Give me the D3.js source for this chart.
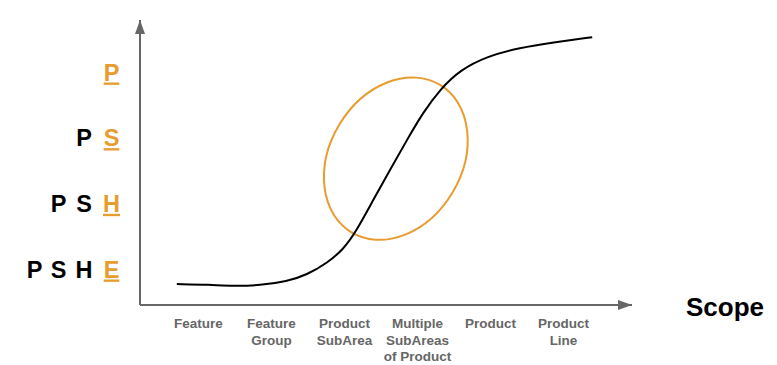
<!DOCTYPE html>
<html>
<head>
<meta charset="utf-8">
<script src="https://cdn.jsdelivr.net/npm/d3@7"></script>
<style>
  body { margin: 0; background: #fff; }
  svg { display: block; font-family: "Liberation Sans", Arial, sans-serif; }
</style>
</head>
<body>
<svg width="777" height="365"></svg>
<script>
// categories along the scope axis (index = position)
var categories = [
  ["Feature"],
  ["Feature", "Group"],
  ["Product", "SubArea"],
  ["Multiple", "SubAreas", "of Product"],
  ["Product"],
  ["Product", "Line"]
];

// levels on the vertical axis, bottom to top
var levels = [
  ["P", "S", "H", "E"],
  ["P", "S", "H"],
  ["P", "S"],
  ["P"]
];

// s-curve, x in category units, y in level units
var curveX = [-0.29, 0.16, 0.48, 0.85, 1.22, 1.49, 1.77, 1.99, 2.15, 2.40, 2.63, 2.86, 3.08, 3.32, 3.59, 3.96, 4.41, 4.86, 5.40];
var curveY = [-0.23, -0.24, -0.26, -0.25, -0.19, -0.09, 0.09, 0.30, 0.54, 1.05, 1.51, 1.96, 2.38, 2.74, 3.03, 3.24, 3.37, 3.45, 3.53];

// highlighted region (center in category / level units)
var focus = {cx: 2.71, cy: 1.68};

var svg = d3.select("svg");
var orange = "#e89c30",
    grey = "#666";

var x = d3.scaleLinear().domain([0, 5]).range([198, 563]);
var y = d3.scaleLinear().domain([0, 3]).range([269, 72]);

var originX = 140, originY = 305;

// arrow heads
var defs = svg.append("defs");
defs.append("marker")
    .attr("id", "arrow")
    .attr("viewBox", "0 0 14 10")
    .attr("refX", 14)
    .attr("refY", 5)
    .attr("markerWidth", 14)
    .attr("markerHeight", 10)
    .attr("markerUnits", "userSpaceOnUse")
    .attr("orient", "auto")
  .append("path")
    .attr("d", "M0,0L14,5L0,10Z")
    .attr("fill", grey);

svg.append("line")
    .attr("x1", originX).attr("y1", originY)
    .attr("x2", 632).attr("y2", originY)
    .attr("stroke", grey)
    .attr("stroke-width", 2)
    .attr("marker-end", "url(#arrow)");

svg.append("line")
    .attr("x1", originX).attr("y1", originY)
    .attr("x2", originX).attr("y2", 20)
    .attr("stroke", grey)
    .attr("stroke-width", 2)
    .attr("marker-end", "url(#arrow)");

// x axis labels
var xAxis = svg.append("g")
    .attr("transform", "translate(0," + 316 + ")")
    .call(d3.axisBottom(x).tickValues(d3.range(categories.length)).tickSize(0).tickFormat(""));
xAxis.select(".domain").remove();

xAxis.selectAll(".tick text")
    .attr("fill", grey)
    .attr("font-size", 13.5)
    .attr("font-weight", "bold")
    .attr("font-family", "Liberation Sans, Arial, sans-serif")
    .attr("y", 0)
    .attr("dy", 0)
    .each(function(i) {
      var t = d3.select(this);
      categories[i].forEach(function(line, k) {
        t.append("tspan")
            .attr("x", 0)
            .attr("y", 12 + k * 16.5)
            .text(line);
      });
    });

// y labels, one letter per column, right aligned
var colX = [111.5, 84, 58.5, 34.5];
levels.forEach(function(row, li) {
  var g = svg.append("g");
  row.forEach(function(letter, k) {
    var last = k === row.length - 1;
    g.append("text")
        .attr("x", colX[row.length - 1 - k])
        .attr("y", y(li) + 8.5)
        .attr("text-anchor", "middle")
        .attr("font-size", 23.5)
        .attr("font-weight", "bold")
        .attr("fill", last ? orange : "#000")
        .style("text-decoration", last ? "underline" : null)
        .text(letter);
  });
});

// axis title
svg.append("text")
    .attr("x", 686)
    .attr("y", 316)
    .attr("font-size", 26)
    .attr("font-weight", "bold")
    .attr("fill", "#000")
    .text("Scope");

// focus ellipse
svg.append("ellipse")
    .attr("cx", x(focus.cx))
    .attr("cy", y(focus.cy))
    .attr("rx", 66)
    .attr("ry", 86)
    .attr("transform", "rotate(31," + x(focus.cx) + "," + y(focus.cy) + ")")
    .attr("fill", "none")
    .attr("stroke", orange)
    .attr("stroke-width", 2);

// s-curve
var pts = curveX.map(function(d, i) { return [d, curveY[i]]; });
var line = d3.line()
    .x(function(d) { return x(d[0]); })
    .y(function(d) { return y(d[1]); })
    .curve(d3.curveBasis);

svg.append("path")
    .attr("d", line(pts))
    .attr("fill", "none")
    .attr("stroke", "#000")
    .attr("stroke-width", 2);
</script>
</body>
</html>
